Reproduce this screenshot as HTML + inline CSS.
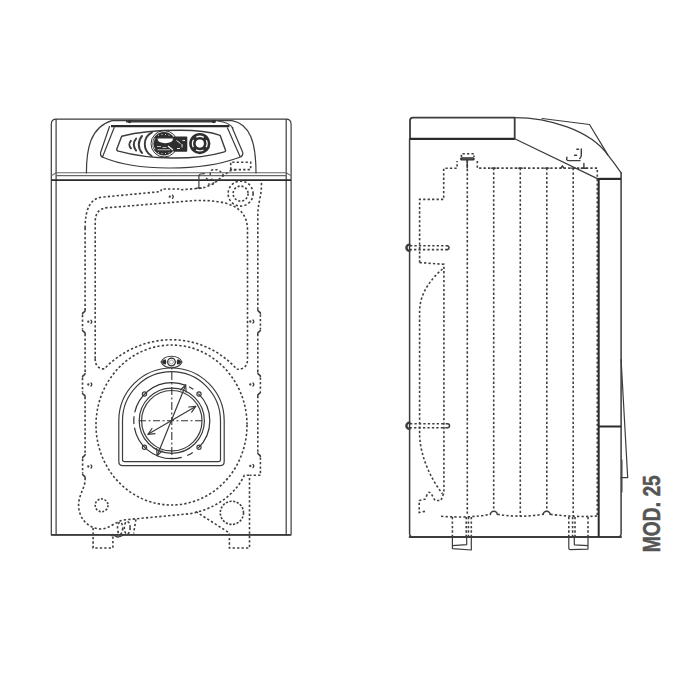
<!DOCTYPE html>
<html><head><meta charset="utf-8">
<style>
html,body{margin:0;padding:0;background:#fff;width:700px;height:700px;overflow:hidden}
svg{display:block}
.s{fill:none;stroke:#3c3c3c;stroke-width:1.2;stroke-linejoin:round;stroke-linecap:round}
.g{fill:none;stroke:#666;stroke-width:1.1}
.t{fill:none;stroke:#2a2a2a;stroke-width:1.8}
.d{fill:none;stroke:#404040;stroke-width:1.6;stroke-dasharray:2.3 2.15}
.f{fill:#2e2e2e;stroke:none}
.w{fill:#fff;stroke:none}
.txt{font-family:"Liberation Sans",sans-serif;font-weight:bold;fill:#555;stroke:#555;stroke-width:0.5}
</style></head><body>
<svg width="700" height="700" viewBox="0 0 700 700">
<g id="front">
  <!-- outer box -->
  <path class="s" d="M51.3,535 V124.2 Q51.3,119.2 56.3,119.2 H286.1 Q291.1,119.2 291.1,124.2 V535 Z"/>
  <line class="s" x1="56.1" y1="119.5" x2="56.1" y2="535"/>
  <line class="s" x1="286.2" y1="119.5" x2="286.2" y2="535"/>
  <line class="s" x1="52" y1="534.9" x2="290" y2="534.9" style="stroke-width:1.8"/>
  <!-- band -->
  <line class="g" x1="56.1" y1="172.7" x2="286.2" y2="172.7"/>
  <line class="g" x1="56.1" y1="175.6" x2="286.2" y2="175.6"/>
  <path class="g" d="M51.5,175.6 L56.1,172.7 M286.2,172.7 L291,175.6"/>
  <line class="t" x1="51.3" y1="180.1" x2="291.1" y2="180.1"/>
  <!-- control panel hump -->
  <path class="s" d="M86.4,173 C86.4,150 90,127 112,120.6 H232 C250,124 256,142 256,173"/>
  <line class="t" x1="126" y1="121.3" x2="216" y2="121.3" style="stroke-width:2.6;stroke:#3a3a3a"/>
  <line class="t" x1="111" y1="126.2" x2="229.4" y2="126.2" style="stroke-width:2.2"/>
  <path class="s" d="M218,121 C226,122 230,124 233,128"/>
  <!-- panel frame -->
  <path class="s" d="M109.5,126.5 L100.6,152.5 Q100,156.5 103.5,157.5 C135,171 200,172 239,157.5 Q243.5,156 242.8,152.5 L232.1,127.5"/>
  <path class="s" d="M114.2,127.5 L102.5,157 M227.5,127.9 L240,156.5"/>
  <!-- display panel -->
  <path class="s" style="stroke-width:1.4" d="M121.7,136.2 C140,131.5 160,130.3 180,130.3 C200,130.3 212,132.5 220.1,135.3 L225.6,150.5 Q225.8,151.5 224.5,151.8 C195,160.5 150,160 118.5,151.2 Q116.3,150.5 116.8,149 Z"/>
  <!-- arcs -->
  <path class="s" style="stroke-width:2" d="M130.9,140.9 A5.3,5.3 0 0 0 130.9,148.3"/>
  <path class="s" style="stroke-width:2" d="M136.1,138.6 A9,9 0 0 0 136.1,150.6"/>
  <path class="s" style="stroke-width:2" d="M142,136 A12.8,12.8 0 0 0 142,152.9"/>
  <path class="s" style="stroke-width:1.9" d="M152,132.4 A13.4,13.4 0 0 0 151.7,156"/>
  <!-- big knob -->
  <circle cx="164.2" cy="143.8" r="13.2" fill="none" stroke="#333" stroke-width="1"/>
  <circle cx="164" cy="143.8" r="11.7" class="f"/>
  <path d="M155,138.2 A9.8,9.8 0 0 0 155,149.4" fill="none" stroke="#fff" stroke-width="0.7"/>
  <path class="w" d="M157.4,138.6 H173.2 Q172.5,143.2 165.3,143.2 Q158.1,143.2 157.4,138.6 Z"/>
  <rect x="158" y="134.8" width="1" height="0.8" class="w"/><rect x="161.5" y="134.2" width="1" height="0.8" class="w"/><rect x="165" y="134.2" width="1" height="0.8" class="w"/><rect x="168.5" y="134.8" width="1" height="0.8" class="w"/>
  <rect x="158" y="152.4" width="1" height="0.8" class="w"/><rect x="161.5" y="153" width="1" height="0.8" class="w"/><rect x="165" y="153" width="1" height="0.8" class="w"/><rect x="168.5" y="152.4" width="1" height="0.8" class="w"/>
  <path d="M157,146.5 H161 M162.5,147.5 H166.5 M157.5,149.8 H170" stroke="#fff" stroke-width="0.7"/>
  <path d="M168,146 L173,150" stroke="#fff" stroke-width="1.3"/>
  <rect x="173.2" y="136.4" width="14.1" height="15.4" rx="1" class="f"/>
  <path d="M176.5,140.5 L180.5,143.5 M182.5,140.5 H185 M182,144 V147.5 M177,148.5 H180" stroke="#fff" stroke-width="0.9"/>
  <!-- right knob -->
  <circle cx="199.8" cy="143.6" r="10.6" class="f"/>
  <circle cx="199.8" cy="143.6" r="7.35" fill="none" stroke="#fff" stroke-width="1.3" stroke-dasharray="3.85 3.85 7.7 3.85 7.7 3.85 7.7 3.85 3.85 0"/>
  <circle cx="199.8" cy="143.6" r="4.1" class="w"/>
  <!-- bolts on top -->
  <circle cx="129.6" cy="121.5" r="1.7" class="f"/>
  <circle cx="213.6" cy="121.5" r="1.7" class="f"/>

  <!-- dashed fitting near top right -->
  <path class="d" d="M230.7,169.6 V162.2 H250.7 V169.6 Z"/>
  <circle class="d" cx="240.6" cy="193.6" r="7.5" style="stroke-dasharray:2.1 1.9"/>
  <circle class="d" cx="240.6" cy="193.6" r="12.5"/>
  <!-- small fitting near band -->
  <path class="s" d="M204.3,173.7 L200.5,174 Q198.9,174.4 198.9,176 V188 M196.4,188.2 H201.4"/>
  <path class="d" d="M210.3,175 Q209.8,169.8 213,169.8 H217 Q220,170 223.6,175.5 L230,170.9 L238,169.3" style="stroke-width:1.4"/>
  <path class="d" d="M206,178 q3,3 6,1 q3,3 6,0 M208,184 q4,1 8,-3" style="stroke-width:1.3"/>

  <!-- outer dashed casting top -->
  <path class="d" d="M85.1,228 Q85.1,197.5 103.6,197 L160.7,191.6 L161.6,189 L179.6,189 L180.5,189.8 L198.8,188.4 L205,187.3 L213.6,183.7 L223.6,175.5"/>
  <path class="d" d="M261.4,182.9 C262,195 257.8,203 257.8,215 V309.5 M260.4,314.5 V329 M257.8,334 V372.5 M260.4,377.5 V391 M257.8,396 V452.5 M260.4,457.5 V475.3 H249.6"/>
  <path class="d" d="M85.1,228 V310 M82.5,315 V329 M85.1,334 V373 M82.5,378 V392 M85.1,397 V454 M82.6,459 V473 M85.1,478 V480 C85,488 78.6,495 78.6,505 C78.6,520 90,529 100.9,529 C110,529 117,519.7 126.6,519.7 L190,513.7 C215,509 235,495 244.3,475.3 H249.6"/>
  <g class="s" style="stroke-width:1.6">
  <path d="M85.1,310.5 C85.1,312.5 82.5,312 82.5,314 M82.5,330 C82.5,332 85.1,331.5 85.1,333.5"/>
  <path d="M85.1,373.5 C85.1,375.5 82.5,375 82.5,377 M82.5,393 C82.5,395 85.1,394.5 85.1,396.5"/>
  <path d="M85.1,454.5 C85.1,456.5 82.6,456 82.6,458 M82.6,474 C82.6,476 85.1,475.5 85.1,477.5"/>
  <path d="M257.8,310 C257.8,312 260.4,311.5 260.4,313.5 M260.4,330 C260.4,332 257.8,331.5 257.8,333.5"/>
  <path d="M257.8,373 C257.8,375 260.4,374.5 260.4,376.5 M260.4,392 C260.4,394 257.8,393.5 257.8,395.5"/>
  <path d="M257.8,453 C257.8,455 260.4,454.5 260.4,456.5"/>
  </g>
  <!-- inner dashed -->
  <path class="d" d="M95.2,358.6 V222 Q95.2,207.6 109,207.6 L195,200.5 C225,200 247.5,205 247.5,230 V359.6 Q247.5,369.3 236.8,369.3"/>
  <path class="d" d="M95.2,358.6 Q95.2,368.9 104.3,368.9 C120,352 145,339.7 171.5,339.7 C198,339.7 222,352 236.8,369.3"/>
  <!-- big ellipse -->
  <ellipse class="d" cx="171.5" cy="425" rx="75.5" ry="80"/>
  <!-- small marks -->
  <g class="s" style="stroke-width:1.3">
  <path d="M91,320.2 q1.6,1.5 0,3"/><circle cx="88.3" cy="321.7" r="0.5"/>
  <path d="M91,383 q1.6,1.5 0,3"/><circle cx="88.3" cy="384.5" r="0.5"/>
  <path d="M91,465 q1.6,1.5 0,3"/><circle cx="88.3" cy="466.5" r="0.5"/>
  <path d="M253,320 q1.6,1.5 0,3"/><circle cx="250.3" cy="321.5" r="0.5"/>
  <path d="M253,383 q1.6,1.5 0,3"/><circle cx="250.3" cy="384.5" r="0.5"/>
  <path d="M253,464.5 q1.6,1.5 0,3"/><circle cx="250.3" cy="466" r="0.5"/>
  <path d="M172.5,195.2 q1.6,1.5 0,3"/><circle cx="169.8" cy="196.7" r="0.5"/>
  </g>

  <!-- bottom features -->
  <circle class="d" cx="101.6" cy="505.3" r="6.4" style="stroke-dasharray:2 1.6"/>
  <circle class="d" cx="231.9" cy="512.8" r="11.6" style="stroke-dasharray:2.2 1.5"/>
  <path class="d" d="M93.1,528 V548 H112.9 V535"/>
  <path class="d" d="M196,511.7 L229.4,533 V548 H249.5 V475.5"/>
  <ellipse class="d" cx="120.1" cy="528.2" rx="2.6" ry="6"/>
  <ellipse class="d" cx="127.2" cy="527.8" rx="2.9" ry="6.3"/>
  <line class="d" x1="135.9" y1="519.4" x2="133.6" y2="533.5"/>
  <path class="s" style="stroke-width:1.4" d="M111.5,535.5 Q113,533.5 115,535.8 Q117.5,538.5 123.5,535"/>

  <!-- burner door -->
  <path class="s" d="M118.8,420.7 A52.7,52.7 0 0 1 224.2,420.7 V461.5 Q224.2,465.6 220.1,465.6 H122.9 Q118.8,465.6 118.8,461.5 Z"/>
  <path class="s" d="M122.5,420.7 A49,49 0 0 1 220.5,420.7 V459.5 Q220.5,461.6 218.4,461.6 H124.6 Q122.5,461.6 122.5,459.5 Z"/>
  <circle cx="171.8" cy="420.7" r="38" fill="none" stroke="#333" stroke-width="1.2" stroke-dasharray="30.5 6.9 6.4 5.7 62.8 3.4 8.0 3.9 65.6 3.4 5.0 6.6 30.5 0"/>
  <circle class="s" cx="171.8" cy="420.7" r="32.6"/>
  <circle class="s" cx="171.8" cy="420.7" r="30.2"/>
  <circle class="s" cx="144.5" cy="394" r="2.1"/>
  <circle class="s" cx="199" cy="394" r="2.1"/>
  <circle class="s" cx="144.5" cy="447.2" r="2.1"/>
  <circle class="s" cx="199" cy="447.2" r="2.1"/>
  <!-- centre lines -->
  <line x1="139" y1="420.7" x2="204.5" y2="420.7" fill="none" stroke="#333" stroke-width="1.1" stroke-dasharray="7 2.5 2 2.5"/>
  <line x1="171.8" y1="357" x2="171.8" y2="458" fill="none" stroke="#333" stroke-width="1.1" stroke-dasharray="8 2.5 2 2.5"/>
  <!-- arrows -->
  <line class="s" x1="157.1" y1="455.7" x2="185.7" y2="385"/>
  <line class="s" x1="148" y1="434.3" x2="195.7" y2="406.4"/>
  <path class="s" d="M180.6,389.8 L185.7,385 L186.1,392.0 M162.2,450.9 L157.1,455.7 L156.7,448.7 M188.7,407.0 L195.7,406.4 L191.7,412.2 M155.0,433.7 L148,434.3 L152.0,428.5"/>
  <!-- sight glass flange -->
  <path d="M161,362 C164.5,354.3 178.5,354.3 182,362 C178.5,369.7 164.5,369.7 161,362 Z" fill="#fff" stroke="#3c3c3c" stroke-width="1.1"/>
  <path d="M161.8,362 C162.8,360 164,359.6 165.8,359.6 Q166.8,362 165.8,364.4 C164,364.4 162.8,364 161.8,362 Z" class="f"/>
  <path d="M181.2,362 C180.2,360 179,359.6 177.2,359.6 Q176.2,362 177.2,364.4 C179,364.4 180.2,364 181.2,362 Z" class="f"/>
  <circle cx="171.5" cy="362" r="3.8" fill="#fff" stroke="#2e2e2e" stroke-width="1.3"/>
  <circle cx="171.5" cy="362" r="2" fill="none" stroke="#777" stroke-width="0.6"/>
</g>

<g id="side">
  <path class="s" style="stroke-width:1.5" d="M409.6,138.8 V533.5 Q409.6,537 413,537 H617.6 Q621.1,537 621.1,533.5 V172.8"/>
  <path class="s" style="stroke-width:1.8" d="M410,138.8 V120.5 Q410,117.6 413,117.6 H514.7 V138.8"/>
  <line class="t" x1="410" y1="138.8" x2="514.7" y2="138.8" style="stroke-width:2.2"/>
  <path class="s" d="M514.7,117.6 C548,117.6 590,130 608,155.1 Q615,164 621.1,172.8"/>
  <line class="s" x1="409.6" y1="537" x2="621.1" y2="537" style="stroke-width:1.8"/>
  <path class="s" d="M542.1,118.5 L589.5,124.5 L608,155.1"/>
  <path class="s" d="M514.7,138.8 L597.9,178.9"/>
  <line class="t" x1="598.7" y1="178.9" x2="621.1" y2="178.9" style="stroke-width:2.2"/>
  <line class="t" x1="598.7" y1="178" x2="598.7" y2="537" style="stroke-width:2"/>
  <line class="t" x1="598.7" y1="426.5" x2="621.1" y2="426.5" style="stroke-width:2"/>
  <path class="s" d="M621.1,359.7 L627.7,477.7 H621.1"/>
  <line class="s" x1="622" y1="460" x2="622" y2="492" style="stroke-width:1"/>
  <!-- dashed stepped outline -->
  <path class="d" d="M419.6,262.6 V199.4 H443.7 V168.3 H457.1 V161 M477.3,161 V168.1 H597.3 V516"/>
  <path class="d" d="M419.6,262.6 L443.9,264.3 V493.7"/>
  <path class="d" d="M442.5,269 C431,279 419.6,293 419.6,312 V434.5 C420,455 430,478 442.5,493.7"/>
  <line class="d" x1="467.3" y1="160" x2="467.3" y2="516"/>
  <line class="d" x1="493.7" y1="168" x2="493.7" y2="510"/>
  <line class="d" x1="520.3" y1="168" x2="520.3" y2="516"/>
  <line class="d" x1="546.8" y1="168" x2="546.8" y2="511"/>
  <line class="d" x1="573.2" y1="168" x2="573.2" y2="516"/>
  <path class="s" d="M491.5,168.2 H496 M518.1,168.2 H522.5 M544.6,168.2 H549 M571,168.2 H575.4"/>
  <path class="d" d="M441,516.3 Q470,518.3 490.2,514.3 M497.5,514.3 Q520,518 543,514.3 M550.3,514.3 Q575,517.5 597,516"/>
  <path class="s" style="stroke-width:1.5" d="M490.4,514.6 A3.4,3.4 0 0 1 497.3,514.6 M543.2,514.6 A3.4,3.4 0 0 1 550.1,514.6"/>
  <!-- top fitting -->
  <rect x="460.1" y="157.2" width="14.6" height="3.4" rx="1.5" class="f"/>
  <line x1="462" y1="158.9" x2="473" y2="158.9" stroke="#888" stroke-width="0.6"/>
  <line class="s" x1="467.2" y1="160" x2="467.2" y2="168" style="stroke-width:1.5"/>
  <path class="d" d="M461.4,157 V153.7 H474 V157"/>
  <!-- right fitting -->
  <path class="s" style="stroke-width:1.4" d="M576.8,149.3 H578.6 M581.3,149 V155.1 Q581.3,157.5 579.7,158.6 M574.5,155.3 H576.6 M566.9,157.3 Q566,160.6 568.5,160.6 H580 M583.9,163.5 V168 M581.2,168.2 H586.2 M561,167.8 L562.4,165.8 L563.8,167.8"/>
  <!-- pipe stubs -->
  <path class="d" d="M410,245.7 H447.5 M447.5,249.6 H410"/>
  <path class="s" style="stroke-width:1.5" d="M447.5,245.7 A2,2 0 0 1 447.5,249.6"/>
  <path class="s" style="stroke-width:2.4" d="M409.5,244.6 A3,3 0 0 0 409.5,250.7"/>
  <path class="d" d="M410,423.7 H447.5 M447.5,427.7 H410"/>
  <path class="s" style="stroke-width:1.5" d="M447.5,423.7 A2,2 0 0 1 447.5,427.7"/>
  <path class="s" style="stroke-width:2.4" d="M409.5,422.6 A3,3 0 0 0 409.5,428.8"/>
  <!-- cloud -->
  <path class="d" d="M443.5,493.7 L441,500.5 L435,500.5 C433,497 431,492.2 429,492.2 C427,492.2 426,499 425.2,499 L419.2,500.5 V512.5 L426.7,511"/>
  <!-- feet -->
  <path class="s" d="M452.4,537 V548.6 L471.3,550 V537 M466.7,537 V544.6 L452.4,545.7"/>
  <path class="d" d="M452.4,517 V537 M471.3,517 V537 M466.2,517 V537 M468.4,517 V537"/>
  <path class="s" d="M568.8,537 V548.3 Q568.8,549.6 570.2,549.6 L588,549.1 V537 M574.3,537 V544.8 L588,545.6"/>
  <path class="d" d="M568.8,517 V537 M588,517 V537 M572.6,517 V537 M575,517 V537"/>
</g>

<text class="txt" transform="translate(659.5,552.2) rotate(-90)" font-size="24.6" textLength="77" lengthAdjust="spacingAndGlyphs">MOD. 25</text>
</svg>
</body></html>
